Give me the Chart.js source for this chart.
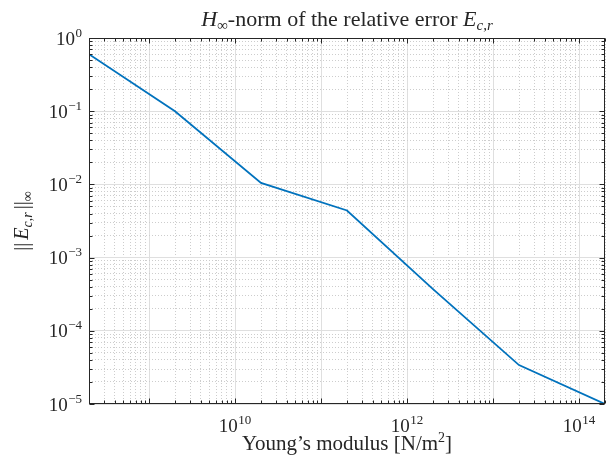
<!DOCTYPE html>
<html>
<head>
<meta charset="utf-8">
<script src="https://cdn.jsdelivr.net/npm/chart.js@4.4.1/dist/chart.umd.min.js"></script>
<style>
  html, body { margin: 0; padding: 0; background: #ffffff; }
  #wrap { width: 609px; height: 461px; }
</style>
</head>
<body>
<div id="wrap"><canvas id="c" width="609" height="461"></canvas></div>
<script>
// Young's modulus sweep [N/m^2] and the H-infinity norm of the relative error
const youngsModulus = [2e8, 2e9, 2e10, 2e11, 2e12, 2e13, 2e14];
const hinfError = [0.60, 0.10, 0.0105, 0.0044, 3.7e-4, 3.4e-5, 1.0e-5];

// decade exponents that carry a tick label
const xTickExponents = [10, 12, 14];
const yTickExponents = [0, -1, -2, -3, -4, -5];

// axis limits
const xLimits = [2e8, 2e14];
const yLimits = [1e-5, 1];

const SERIF = '"Liberation Serif", "DejaVu Serif", serif';
const INK = '#262626';

// 1..9 x 10^n ticks inside [lo, hi]; powers of ten are major
function decadeTicks(lo, hi) {
  const out = [];
  const n0 = Math.floor(Math.log10(lo)), n1 = Math.ceil(Math.log10(hi));
  for (let n = n0; n <= n1; n++) {
    for (let k = 1; k <= 9; k++) {
      const v = Number((k * Math.pow(10, n)).toPrecision(12));
      if (v >= lo * (1 - 1e-9) && v <= hi * (1 + 1e-9)) out.push({ value: v, major: k === 1 });
    }
  }
  return out;
}

// draw a row of text pieces (different fonts / vertical shifts) as one label
function drawRuns(ctx, runs, x, y, align) {
  let w = 0;
  runs.forEach(r => { ctx.font = r.f; r.w = ctx.measureText(r.t).width; w += r.w + (r.gap || 0); });
  let cx = align === 'center' ? x - w / 2 : (align === 'right' ? x - w : x);
  runs.forEach(r => { ctx.font = r.f; ctx.fillText(r.t, cx, y + (r.dy || 0)); cx += r.w + (r.gap || 0); });
}

const gridColor = ctx => (ctx.tick && ctx.tick.major) ? '#dfdfdf' : '#cdcdcd';
const gridDash = ctx => (ctx.tick && ctx.tick.major) ? [] : [1, 2];

const axesDecor = {
  id: 'axesDecor',
  afterDatasetsDraw(chart) {
    const { ctx, chartArea: a, scales } = chart;
    const xs = scales.x, ys = scales.y;
    const L = Math.round(a.left) + 0.5, R = Math.round(a.right) - 0.5;
    const T = Math.round(a.top) + 0.5, B = Math.round(a.bottom) - 0.5;
    ctx.save();
    ctx.strokeStyle = INK;
    ctx.lineWidth = 1;
    ctx.beginPath();
    // inward tick marks on all four sides
    xs.ticks.forEach(t => {
      const px = Math.round(xs.getPixelForValue(t.value)) + 0.5;
      const len = t.major ? 5 : 3;
      ctx.moveTo(px, B); ctx.lineTo(px, B - len);
      ctx.moveTo(px, T); ctx.lineTo(px, T + len);
    });
    ys.ticks.forEach(t => {
      const py = Math.round(ys.getPixelForValue(t.value)) + 0.5;
      const len = t.major ? 5 : 3;
      ctx.moveTo(L, py); ctx.lineTo(L + len, py);
      ctx.moveTo(R, py); ctx.lineTo(R - len, py);
    });
    ctx.stroke();
    ctx.strokeRect(L, T, R - L, B - T);

    // tick labels 10^n
    ctx.fillStyle = INK;
    ctx.textAlign = 'left';
    ctx.textBaseline = 'alphabetic';
    const base = `19px ${SERIF}`, sup = `13px ${SERIF}`;
    yTickExponents.forEach(e => {
      const py = ys.getPixelForValue(Math.pow(10, e));
      const et = e < 0 ? '\u2212' + (-e) : String(e);
      drawRuns(ctx, [{ t: '10', f: base, gap: 0.5 }, { t: et, f: sup, dy: -8 }], a.left - 7, py + 6.5, 'right');
    });
    xTickExponents.forEach(e => {
      const px = xs.getPixelForValue(Math.pow(10, e));
      drawRuns(ctx, [{ t: '10', f: base, gap: 0.5 }, { t: String(e), f: sup, dy: -8 }], px, a.bottom + 28, 'center');
    });

    const cx = (a.left + a.right) / 2, cy = (a.top + a.bottom) / 2;

    // x-axis title
    const lab = `21px ${SERIF}`;
    drawRuns(ctx, [
      { t: 'Young\u2019s modulus [N/m', f: lab },
      { t: '2', f: `14px ${SERIF}`, dy: -8 },
      { t: ']', f: lab }
    ], cx, a.bottom + 46, 'center');

    // y-axis title ||E_{c,r}||_inf
    ctx.save();
    ctx.translate(27.5, cy);
    ctx.rotate(-Math.PI / 2);
    const ylab = `20px ${SERIF}`, it = `italic 20px ${SERIF}`, sub = `14px ${SERIF}`, subIt = `italic 14px ${SERIF}`;
    drawRuns(ctx, [
      { t: '||', f: ylab, gap: 3 },
      { t: 'E', f: it },
      { t: 'c', f: subIt, dy: 4 },
      { t: ',', f: sub, dy: 4 },
      { t: 'r', f: subIt, dy: 4, gap: 3 },
      { t: '||', f: ylab },
      { t: '\u221E', f: sub, dy: 4 }
    ], 0, 0, 'center');
    ctx.restore();

    // chart title
    const tf = `22px ${SERIF}`, tIt = `italic 22px ${SERIF}`;
    const tSub = `15px ${SERIF}`, tSubIt = `italic 15px ${SERIF}`;
    drawRuns(ctx, [
      { t: 'H', f: tIt },
      { t: '\u221E', f: tSub, dy: 4 },
      { t: '-norm of the relative error ', f: tf },
      { t: 'E', f: tIt },
      { t: 'c', f: tSubIt, dy: 4 },
      { t: ',', f: tSub, dy: 4 },
      { t: 'r', f: tSubIt, dy: 4 }
    ], cx, 26, 'center');
    ctx.restore();
  }
};

new Chart(document.getElementById('c'), {
  type: 'line',
  data: {
    datasets: [{
      data: youngsModulus.map((x, i) => ({ x, y: hinfError[i] })),
      borderColor: '#0072BD',
      borderWidth: 1.8,
      pointRadius: 0,
      tension: 0,
      fill: false
    }]
  },
  options: {
    responsive: false,
    devicePixelRatio: 1,
    animation: false,
    layout: { padding: { left: 89, right: 4, top: 38, bottom: 57 } },
    plugins: { legend: { display: false }, tooltip: { enabled: false }, title: { display: false } },
    scales: {
      x: {
        type: 'logarithmic',
        min: xLimits[0], max: xLimits[1],
        afterBuildTicks: s => { s.ticks = decadeTicks(xLimits[0], xLimits[1]); },
        ticks: { display: false },
        grid: { color: gridColor, lineWidth: 1, drawTicks: false },
        border: { display: false, dash: gridDash }
      },
      y: {
        type: 'logarithmic',
        min: yLimits[0], max: yLimits[1],
        afterBuildTicks: s => { s.ticks = decadeTicks(yLimits[0], yLimits[1]); },
        ticks: { display: false },
        grid: { color: gridColor, lineWidth: 1, drawTicks: false },
        border: { display: false, dash: gridDash }
      }
    }
  },
  plugins: [axesDecor]
});
</script>
</body>
</html>
